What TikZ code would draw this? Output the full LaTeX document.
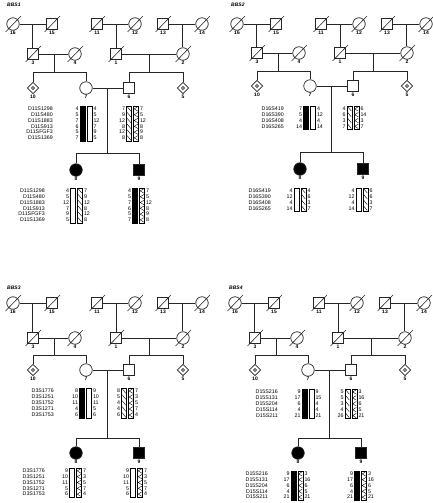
\documentclass[tikz,border=0pt]{standalone}
\usepackage{fontspec}
\setmainfont{Liberation Sans}
\usetikzlibrary{shapes.geometric,calc}
\tikzset{
 ln/.style={line width=0.6pt, draw=black!85},
 sym/.style={draw=black!85, line width=0.7pt, inner sep=0pt, fill=white},
 sq/.style={sym, rectangle, minimum size=11.5pt},
 ci/.style={sym, circle, minimum size=12.5pt},
 di/.style={sym, diamond, minimum size=11.5pt},
 aff/.style={fill=black},
 lab/.style={font=\fontsize{5}{5}\selectfont\bfseries, inner sep=0.6pt},
 mk/.style={font=\fontsize{5.3}{5}\selectfont, inner sep=0pt, anchor=east},
 num/.style={font=\fontsize{5.3}{5}\selectfont, inner sep=0pt},
 slash/.style={line width=0.6pt, draw=black!85},
 barl/.style={line width=0.5pt, draw=black},
 hl/.style={line width=0.4pt, draw=black},
 ttl/.style={font=\fontsize{5}{5}\selectfont\bfseries\itshape, inner sep=0pt, anchor=west},
 dot/.style={circle, draw, line width=0.4pt, minimum size=3pt, inner sep=0pt}
}
% pedigree skeleton: #1 gen I y, #2 gen II y, #3 gen III y, #4 sibship line y, #5 children y
\newcommand\pedigree[5]{%
 \node[ci,label={[lab]below:16}] (p16) at (13,#1) {};
 \node[sq,label={[lab]below:15}] (p15) at (52,#1) {};
 \node[sq,label={[lab]below:11}] (p11) at (97,#1) {};
 \node[ci,label={[lab]below:12}] (p12) at (135,#1) {};
 \node[sq,label={[lab]below:13}] (p13) at (163,#1) {};
 \node[ci,label={[lab]below:14}] (p14) at (202,#1) {};
 \node[sq,label={[lab]below:3}] (p3) at (33,#2) {};
 \node[ci,label={[lab]below:4}] (p4) at (75,#2) {};
 \node[sq,label={[lab]below:1}] (p1) at (116,#2) {};
 \node[ci,label={[lab]below:2}] (p2) at (183,#2) {};
 \node[di,label={[lab]below:10}] (p10) at (33,#3) {};
 \node[ci,label={[lab]below:7}] (p7) at (86,#3) {};
 \node[sq,label={[lab]below:6}] (p6) at (129,#3) {};
 \node[di,label={[lab]below:5}] (p5) at (183,#3) {};
 \node[ci,aff,label={[lab]below:8}] (p8) at (76,#5) {};
 \node[sq,aff,label={[lab]below:9}] (p9) at (139,#5) {};
 \node[dot] (q10) at (p10) {};
 \node[dot] (q5) at (p5) {};
 % marriages and descents
 \draw[ln] (p16) -- (p15);
 \coordinate (m1) at ($(p16)!0.5!(p15)$);
 \draw[ln] (m1) -- (m1 |- p3.north);
 \draw[ln] (p11) -- (p12);
 \coordinate (m2) at ($(p11)!0.5!(p12)$);
 \draw[ln] (m2) -- (m2 |- p1.north);
 \draw[ln] (p13) -- (p14);
 \coordinate (m3) at ($(p13)!0.5!(p14)$);
 \draw[ln] (m3) -- (m3 |- p2.north);
 \draw[ln] (p3) -- (p4);
 \coordinate (m4) at ($(p3)!0.5!(p4)$);
 \coordinate (s1) at ($(p3)!0.55!(p10)$);
 \draw[ln] (m4) -- (m4 |- s1);
 \draw[ln] (p10.north) -- (p10 |- s1) -- (p7 |- s1) -- (p7.north);
 \draw[ln] (p1) -- (p2);
 \coordinate (m5) at ($(p1)!0.5!(p2)$);
 \draw[ln] (m5) -- (m5 |- s1);
 \draw[ln] (p6.north) -- (p6 |- s1) -- (p5 |- s1) -- (p5.north);
 \draw[ln] (p7) -- (p6);
 \coordinate (m6) at ($(p7)!0.5!(p6)$);
 \coordinate (s3) at (m6 |- 0,#4);
 \draw[ln] (m6) -- (s3);
 \draw[ln] (p8.north) -- (p8 |- s3) -- (p9 |- s3) -- (p9.north);
 % deceased
 \foreach \n in {p16,p15,p11,p12,p13,p14,p3,p4,p1,p2}
   \draw[slash] ([shift={(-7.5,8)}]\n.center) -- ([shift={(8,-8)}]\n.center);
}
\newcommand\barBlack[4]{\draw[barl,fill=black] ({#1},{#2}) rectangle ({#1+5},{#2+#3*#4});}
\newcommand\barWhite[4]{\draw[barl,fill=white] ({#1},{#2}) rectangle ({#1+5},{#2+#3*#4});}
\newcommand\barHatchA[4]{\barWhite{#1}{#2}{#3}{#4}%
 \foreach \j in {1,...,#3}{\draw[hl] ({#1+0.7},{#2+(\j-1)*#4+0.7}) -- ({#1+4.3},{#2+\j*#4-0.7});}}
\newcommand\barHatchB[4]{\barWhite{#1}{#2}{#3}{#4}%
 \foreach \j in {1,...,#3}{\draw[hl] ({#1+4.3},{#2+(\j-1)*#4+0.7}) -- ({#1+0.7},{#2+(\j-0.5)*#4}) -- ({#1+4.3},{#2+\j*#4-0.7});}}
% haplotype pair: cx, ytop, n, rowh, left bar, right bar, left alleles, right alleles
\newcommand\haplo[8]{%
 #5{#1-6}{#2}{#3}{#4}%
 #6{#1+1}{#2}{#3}{#4}%
 \foreach \v [count=\i] in {#7} \node[num,anchor=east] at ({#1-7.3},{#2+(\i-0.5)*#4}) {\v};
 \foreach \v [count=\i] in {#8} \node[num,anchor=west] at ({#1+7.3},{#2+(\i-0.5)*#4}) {\v};
}
\newcommand\markers[4]{%
 \foreach \m [count=\i] in {#4} \node[mk] at ({#1},{#2+(\i-0.5)*#3}) {\m};
}
\begin{document}
\begin{tikzpicture}[x=1pt,y=-1pt]
\useasboundingbox (0,0) rectangle (432,503);
% ---------- BBS1 ----------
\node[ttl] (t1) at (7,5) {BBS1};
\begin{scope}[name prefix=A-]
 \pedigree{24}{54}{88}{153}{170}
\end{scope}
\markers{53}{106}{5.8}{D11S1298,D11S480,D11S1883,D11S913,D11SFGF3,D11S1369}
\haplo{86}{106}{6}{5.8}{\barBlack}{\barWhite}{4,5,7,6,5,7}{4,5,12,7,9,5}
\haplo{132.5}{106}{6}{5.8}{\barHatchA}{\barHatchB}{7,9,12,8,12,8}{7,5,12,8,9,8}
\markers{45}{188}{5.8}{D11S1298,D11S480,D11S1883,D11S913,D11SFGF3,D11S1369}
\haplo{76.5}{188}{6}{5.8}{\barWhite}{\barHatchA}{4,5,12,7,9,5}{7,9,12,8,12,8}
\haplo{138.5}{188}{6}{5.8}{\barBlack}{\barHatchB}{4,5,7,6,5,7}{7,5,12,8,9,8}
% ---------- BBS2 ----------
\node[ttl] (t2) at (231,5) {BBS2};
\begin{scope}[shift={(224,0)},name prefix=B-]
 \pedigree{24}{53}{86}{152}{169}
\end{scope}
\markers{284}{106}{5.8}{D16S419,D16S390,D16S408,D16S265}
\haplo{309.5}{106}{4}{5.8}{\barBlack}{\barWhite}{7,5,4,14}{4,12,4,14}
\haplo{353}{106}{4}{5.8}{\barHatchA}{\barHatchB}{4,6,3,7}{6,14,3,7}
\markers{271}{188}{5.8}{D16S419,D16S390,D16S408,D16S265}
\haplo{300}{188}{4}{5.8}{\barWhite}{\barHatchA}{4,12,4,14}{4,6,3,7}
\haplo{362}{188}{4}{5.8}{\barWhite}{\barHatchA}{4,12,4,14}{6,6,3,7}
% ---------- BBS3 ----------
\node[ttl] (t3) at (7,288) {BBS3};
\begin{scope}[name prefix=C-]
 \pedigree{303}{338}{370}{438}{453}
\end{scope}
\markers{54}{388}{6}{D3S1776,D3S1251,D3S1752,D3S1271,D3S1753}
\haplo{85.5}{388}{5}{6}{\barBlack}{\barWhite}{8,10,11,4,6}{9,10,11,5,6}
\haplo{127.5}{388}{5}{6}{\barHatchA}{\barHatchB}{8,5,4,4,6}{7,3,5,7,4}
\markers{45}{468}{5.8}{D3S1776,D3S1251,D3S1752,D3S1271,D3S1753}
\haplo{75.5}{468}{5}{5.8}{\barWhite}{\barHatchB}{9,10,11,5,6}{7,3,5,7,4}
\haplo{136.5}{468}{5}{5.8}{\barWhite}{\barHatchB}{9,10,11,5,6}{7,3,5,7,4}
% ---------- BBS4 ----------
\node[ttl] (t4) at (229,288) {BBS4};
\begin{scope}[shift={(222,0)},name prefix=D-]
 \pedigree{303}{338}{370}{438}{453}
\end{scope}
\markers{278}{389}{5.9}{D15S216,D15S131,D15S204,D15S114,D15S211}
\haplo{308}{389}{5}{5.9}{\barBlack}{\barWhite}{9,17,6,4,21}{9,15,4,4,21}
\haplo{351}{389}{5}{5.9}{\barHatchA}{\barHatchB}{5,5,3,4,26}{3,16,6,5,21}
\markers{268}{471}{5.8}{D15S216,D15S131,D15S204,D15S114,D15S211}
\haplo{297}{471}{5}{5.8}{\barBlack}{\barHatchB}{9,17,6,4,21}{3,16,6,5,21}
\haplo{360.5}{471}{5}{5.8}{\barBlack}{\barHatchB}{9,17,6,4,21}{3,16,6,5,21}
\end{tikzpicture}
\end{document}
